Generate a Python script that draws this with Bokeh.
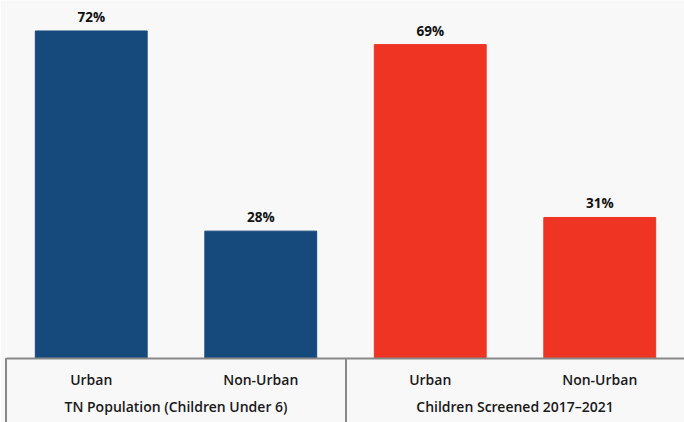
from bokeh.plotting import figure
from bokeh.models import FactorRange, ColumnDataSource, LabelSet, InlineStyleSheet
from bokeh.core.properties import value
from bokeh.embed import file_html
from bokeh.resources import INLINE

groups = ["TN Population (Children Under 6)", "Children Screened 2017\u20132021"]
subcats = ["Urban", "Non-Urban"]
values_tn = [72, 28]
values_screened = [69, 31]
colors_grp = ["#174a7c", "#ef3424"]

x = []
vals = []
cols = []
labels = []
for g, vs, c in zip(groups, [values_tn, values_screened], colors_grp):
    for s, v in zip(subcats, vs):
        x.append((g, s))
        vals.append(v)
        cols.append(c)
        labels.append(f"{v}%")

src = ColumnDataSource(dict(x=x, v=vals, c=cols, lab=labels))

bg = "#f8f8f8"
p = figure(x_range=FactorRange(*x, range_padding=0, group_padding=0, factor_padding=0),
           y_range=(0, 78.7), width=684, height=422, output_backend="svg",
           toolbar_location=None, min_border_left=6, min_border_right=0,
           min_border_top=0, min_border_bottom=64)
p.vbar(x="x", top="v", width=0.66, color="c", source=src)
p.add_layout(LabelSet(x="x", y="v", text="lab", source=src, text_align="center",
                      y_offset=5, text_font=value("Open Sans"), text_font_style="bold",
                      text_font_size="13.5px", text_color="#111"))

semi = "Open Sans SemiBold, Open Sans"
p.background_fill_color = bg
p.border_fill_color = bg
p.outline_line_color = None
p.grid.visible = False
p.yaxis.visible = False
ax = p.xaxis[0]
ax.axis_line_color = "#888888"
ax.axis_line_width = 2
ax.major_tick_line_color = None
ax.minor_tick_line_color = None
ax.major_label_text_font = semi
ax.major_label_text_font_size = "14px"
ax.major_label_text_color = "#1a1a1a"
ax.group_text_font = semi
ax.group_text_font_size = "14px"
ax.group_text_font_style = "normal"
ax.group_text_color = "#1a1a1a"
ax.major_label_standoff = 5
ax.group_label_orientation = "horizontal"
ax.separator_line_color = None

# vertical dividers of the category box below the axis line
p.stylesheets.append(InlineStyleSheet(css="""
:host::before { content: ""; position: absolute; left: 5px; top: 358px;
  width: 2px; height: 64px; background: #888888; z-index: 5; }
:host::after { content: ""; position: absolute; left: 345px; top: 358px;
  width: 2px; height: 64px; background: #888888; z-index: 5; }
"""))

open("out.html", "w").write(file_html(p, INLINE))
